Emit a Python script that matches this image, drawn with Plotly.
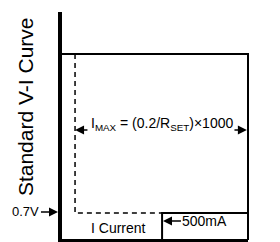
import plotly.graph_objects as go

# ---- diagram data (normalised units: current 0..100, voltage 0..100) ----
voltage_axis_x = [0, 0]
voltage_axis_y = [100, -0.9]
current_axis_x = [0, 100]
current_axis_y = [-0.2, -0.2]
limit_box_x = [0, 100, 100]
limit_box_y = [81.6, 81.6, 0]
curve_x = [8.0, 8.0, 54.3]
curve_y = [81.6, 11.8, 11.8]
current_box_x = [54.3, 54.3, 100]
current_box_y = [0, 11.8, 11.8]
imax_arrow_tips_x = [8.0, 99.4]
imax_arrow_tails_x = [15.4, 92.0]
imax_arrow_y = 48.2

title_text = "Standard V-I Curve"
imax_text = "I<sub>MAX</sub> = (0.2/R<sub>SET</sub>)×1000"
knee_label = "0.7V"
current_label = "I Current"
limit_label = "500mA"

# pixel frame of the plot area (left axis at 60px, bottom at 240px, right at 248, top at 12)
W, H = 280, 242
PL, PR, PT, PB = 60, 248, 12, 240
sx = 100 / (PR - PL)
sy = 100 / (PB - PT)
x_range = [(0 - PL) * sx, (W - PL) * sx]
y_range = [(PB - H) * sy, (PB - 0) * sy]

FONT = "Arial, Liberation Sans, Helvetica, sans-serif"

fig = go.Figure()
fig.add_trace(go.Scatter(x=limit_box_x, y=limit_box_y, mode="lines",
                         line=dict(color="black", width=2), hoverinfo="skip"))
fig.add_trace(go.Scatter(x=current_box_x, y=current_box_y, mode="lines",
                         line=dict(color="black", width=2), hoverinfo="skip"))
fig.add_trace(go.Scatter(x=curve_x, y=curve_y, mode="lines",
                         line=dict(color="black", width=1.5, dash="5px,4px"), hoverinfo="skip"))
fig.add_trace(go.Scatter(x=current_axis_x, y=current_axis_y, mode="lines",
                         line=dict(color="black", width=3), hoverinfo="skip"))
fig.add_trace(go.Scatter(x=voltage_axis_x, y=voltage_axis_y, mode="lines",
                         line=dict(color="black", width=4), hoverinfo="skip"))

ann = []
ann.append(dict(x=-18.6, y=58.3, text=title_text, textangle=-90, showarrow=False,
                font=dict(size=21, color="black", family=FONT)))
ann.append(dict(x=54.3, y=50.9, text=imax_text, showarrow=False,
                font=dict(size=14, color="black", family=FONT)))
# arrows marking the I_MAX span
for tip, tail in zip(imax_arrow_tips_x, imax_arrow_tails_x):
    ann.append(dict(x=tip, y=imax_arrow_y, ax=tail, ay=imax_arrow_y, axref="x", ayref="y",
                    text="", showarrow=True, arrowhead=2, arrowsize=1.2, arrowwidth=1.5,
                    arrowcolor="black"))
# 0.7V knee label
ann.append(dict(x=-1.06, y=12.3, ax=-18.1, ay=12.3, axref="x", ayref="y", text=knee_label,
                showarrow=True, arrowhead=2, arrowsize=1.2, arrowwidth=1.5, arrowcolor="black",
                font=dict(size=13, color="black", family=FONT)))
# 500mA label
ann.append(dict(x=54.8, y=8.3, ax=77.1, ay=8.3, axref="x", ayref="y", text=limit_label,
                showarrow=True, arrowhead=2, arrowsize=1.2, arrowwidth=1.5, arrowcolor="black",
                font=dict(size=14, color="black", family=FONT)))
ann.append(dict(x=30.9, y=5.3, text=current_label, showarrow=False,
                font=dict(size=14, color="black", family=FONT)))

fig.update_layout(
    width=W, height=H,
    margin=dict(l=0, r=0, t=0, b=0),
    paper_bgcolor="white", plot_bgcolor="white",
    showlegend=False,
    xaxis=dict(range=x_range, visible=False, fixedrange=True),
    yaxis=dict(range=y_range, visible=False, fixedrange=True),
    annotations=ann,
)
fig.write_html("out.html", config={"displayModeBar": False},
               post_script="document.body.style.margin='0';document.body.style.overflow='hidden';")
